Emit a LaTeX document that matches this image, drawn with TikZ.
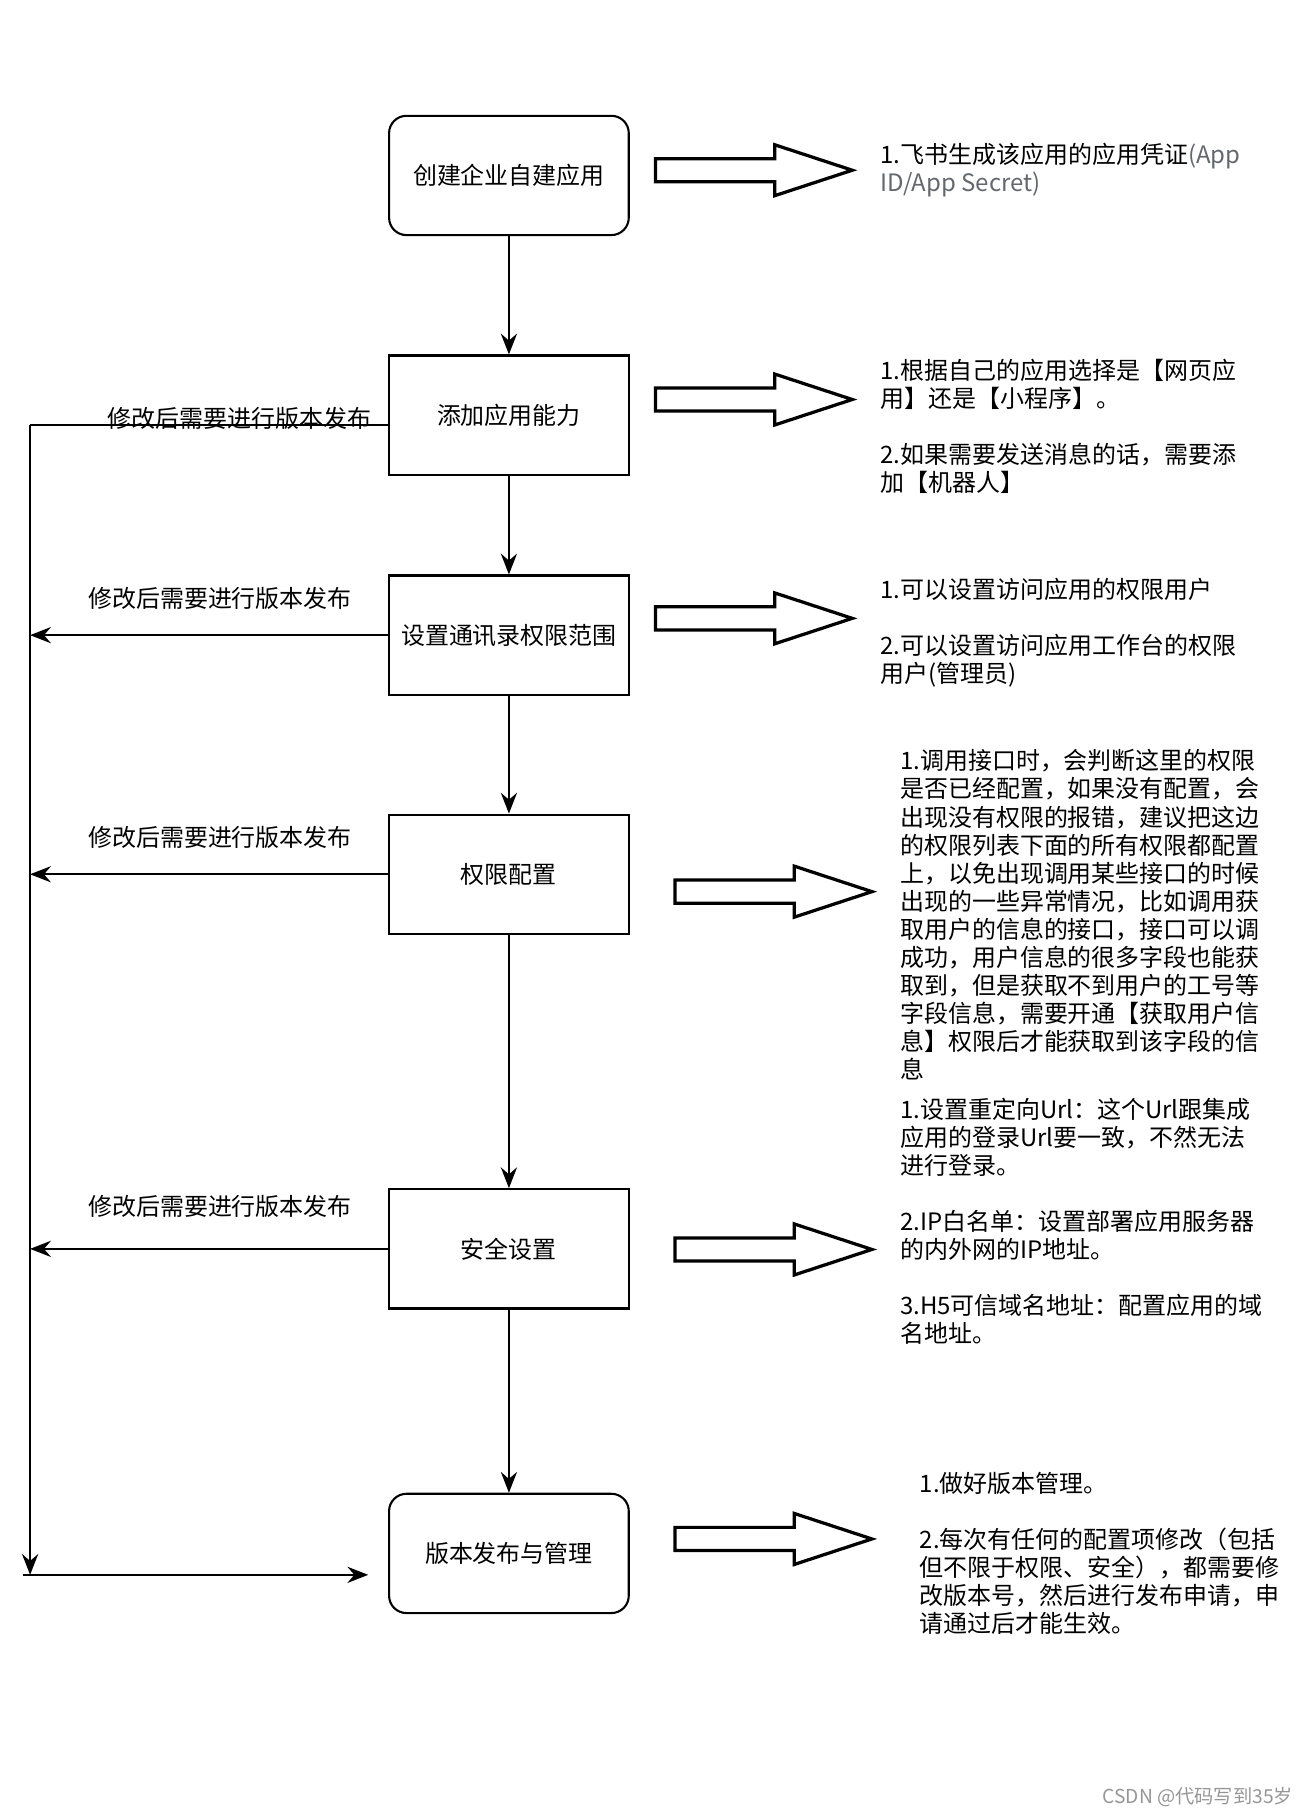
\documentclass[tikz,border=0pt]{standalone}
\usepackage{fontspec}
\setmainfont{Noto Sans CJK SC}
\usetikzlibrary{arrows.meta,calc}
\definecolor{appgray}{RGB}{100,104,110}
\definecolor{wmgray}{RGB}{150,150,150}
\begin{document}
\begin{tikzpicture}[x=0.5pt,y=-0.5pt,
  txt/.style={font=\fontsize{10.35pt}{12.1pt}\selectfont},
  stepbox/.style={draw,line width=0.9pt,minimum width=103.5pt,minimum height=51.5pt,inner sep=0pt,txt},
  roundbox/.style={stepbox,rounded corners=7.5pt},
  flow/.style={line width=0.8pt,-{Stealth[length=9pt,width=7pt,inset=3pt]}},
  plain/.style={line width=0.8pt},
  barrow/.style={draw,line width=1.4pt,fill=white,line join=miter},
  note/.style={txt,anchor=north west,inner sep=0pt,align=left},
  lbl/.style={txt,inner sep=0pt}
]
\path[use as bounding box] (0,0) rectangle (1130,1570);

% main boxes
\node[roundbox] (b1) at (439.5,151.5) {创建企业自建应用};
\node[stepbox]  (b2) at (439.5,358.5) {添加应用能力};
\node[stepbox]  (b3) at (439.5,548.5) {设置通讯录权限范围};
\node[stepbox]  (b4) at (439.5,755)   {权限配置};
\node[stepbox]  (b5) at (439.5,1078.5){安全设置};
\node[roundbox] (b6) at (439.5,1341.5){版本发布与管理};

% vertical flow
\draw[flow] (b1) -- (b2);
\draw[flow] (b2) -- (b3);
\draw[flow] (b3) -- (b4);
\draw[flow] (b4) -- (b5);
\draw[flow] (b5) -- (b6);

% feedback lines
\coordinate (ltop) at (26,367);
\coordinate (lbot) at (26,1360);
\coordinate (hstart) at (20,1360);
\coordinate (hend) at (318,1360);
\draw[plain] (b2.west |- ltop) -- (ltop);
\draw[flow] (ltop) -- (lbot);
\draw[flow] (b3.west) -- (b3.west -| ltop);
\draw[flow] (b4.west) -- (b4.west -| ltop);
\draw[flow] (b5.west) -- (b5.west -| ltop);
\draw[flow] (hstart) -- (hend);

% labels
\node[lbl] (l2) at (207,361) {修改后需要进行版本发布};
\node[lbl] (l3) at (190,517) {修改后需要进行版本发布};
\node[lbl] (l4) at (190,723) {修改后需要进行版本发布};
\node[lbl] (l5) at (190,1042) {修改后需要进行版本发布};

% block arrows
\foreach \ax/\ay in {566/147, 566/345, 566/534, 583/770, 583/1079, 583/1329}{
  \draw[barrow,shift={(\ax,\ay)}] (0,-10) -- (103,-10) -- (103,-22) -- (170,0) -- (103,22) -- (103,10) -- (0,10) -- cycle;
}

% notes
\node[note] (t1) at (760,123) {1.飞书生成该应用的应用凭证{\color{appgray}(App}\\{\color{appgray}ID/App Secret)}};
\node[note] (t2) at (760,310) {1.根据自己的应用选择是【网页应\\用】还是【小程序】。\\[12.1pt]2.如果需要发送消息的话，需要添\\加【机器人】};
\node[note] (t3) at (760,499) {1.可以设置访问应用的权限用户\\[12.1pt]2.可以设置访问应用工作台的权限\\用户(管理员)};
\node[note] (t4) at (777,647) {1.调用接口时，会判断这里的权限\\是否已经配置，如果没有配置，会\\出现没有权限的报错，建议把这边\\的权限列表下面的所有权限都配置\\上，以免出现调用某些接口的时候\\出现的一些异常情况，比如调用获\\取用户的信息的接口，接口可以调\\成功，用户信息的很多字段也能获\\取到，但是获取不到用户的工号等\\字段信息，需要开通【获取用户信\\息】权限后才能获取到该字段的信\\息};
\node[note] (t5) at (777,948) {1.设置重定向Url：这个Url跟集成\\应用的登录Url要一致，不然无法\\进行登录。\\[12.1pt]2.IP白名单：设置部署应用服务器\\的内外网的IP地址。\\[12.1pt]3.H5可信域名地址：配置应用的域\\名地址。};
\node[note] (t6) at (794,1271) {1.做好版本管理。\\[12.1pt]2.每次有任何的配置项修改（包括\\但不限于权限、安全），都需要修\\改版本号，然后进行发布申请，申\\请通过后才能生效。};

% watermark
\node[anchor=east,inner sep=0pt,text=wmgray,font=\fontsize{8.3pt}{10pt}\selectfont] (wm) at (1117,1552) {CSDN @代码写到35岁};
\end{tikzpicture}
\end{document}
